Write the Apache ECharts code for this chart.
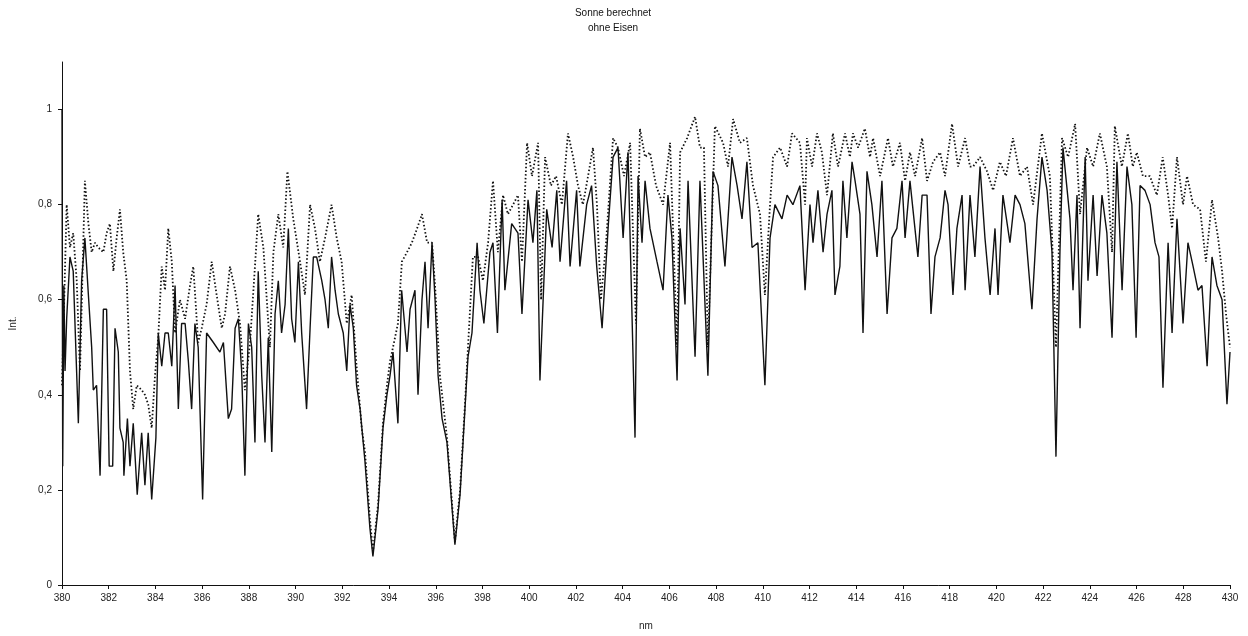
<!DOCTYPE html>
<html>
<head>
<meta charset="utf-8">
<title>Sonne berechnet – ohne Eisen</title>
<script src="https://cdn.jsdelivr.net/npm/echarts@6/dist/echarts.min.js"></script>
<style>
  html, body { margin: 0; padding: 0; background: #fff; }
  #chart { width: 1248px; height: 636px; }
</style>
</head>
<body>
<div id="chart"></div>
<script>
// Wavelength axis (nm) and intensity axis tick values
const xTicks = [380, 382, 384, 386, 388, 390, 392, 394, 396, 398, 400, 402, 404, 406, 408, 410, 412, 414, 416, 418, 420, 422, 424, 426, 428, 430];
const yTicks = [0, 0.2, 0.4, 0.6, 0.8, 1];

// Solid spectrum: [wavelength nm, intensity]
const solidSpectrum = [
  [380.00,1.00],[380.03,0.25],[380.08,0.63],[380.13,0.45],[380.20,0.56],[380.34,0.69],[380.48,0.66],[380.70,0.34],[380.84,0.64],[380.98,0.73],
  [381.13,0.61],[381.27,0.50],[381.34,0.41],[381.48,0.42],[381.63,0.23],[381.77,0.58],[381.91,0.58],[382.02,0.25],[382.17,0.25],[382.27,0.54],
  [382.41,0.49],[382.48,0.33],[382.62,0.30],[382.65,0.23],[382.80,0.35],[382.91,0.25],[383.05,0.34],[383.22,0.19],[383.41,0.32],[383.55,0.21],
  [383.69,0.32],[383.84,0.18],[384.02,0.31],[384.12,0.53],[384.27,0.46],[384.41,0.53],[384.55,0.53],[384.70,0.46],[384.84,0.63],[384.98,0.37],
  [385.12,0.55],[385.27,0.55],[385.41,0.47],[385.55,0.37],[385.69,0.55],[385.83,0.50],[386.02,0.18],[386.19,0.53],[386.48,0.51],[386.76,0.49],
  [386.91,0.51],[387.12,0.35],[387.26,0.37],[387.41,0.54],[387.55,0.56],[387.69,0.45],[387.83,0.23],[387.98,0.55],[388.12,0.50],[388.26,0.30],
  [388.40,0.66],[388.55,0.44],[388.69,0.30],[388.83,0.52],[388.98,0.28],[389.12,0.57],[389.26,0.64],[389.40,0.53],[389.55,0.59],[389.69,0.75],
  [389.83,0.56],[389.97,0.51],[390.12,0.68],[390.26,0.53],[390.47,0.37],[390.62,0.54],[390.76,0.69],[390.90,0.69],[391.12,0.64],[391.26,0.60],
  [391.40,0.54],[391.54,0.69],[391.69,0.62],[391.83,0.57],[392.04,0.53],[392.19,0.45],[392.33,0.59],[392.47,0.54],[392.61,0.42],[392.76,0.37],
  [392.97,0.26],[393.18,0.12],[393.31,0.06],[393.53,0.16],[393.74,0.33],[393.91,0.40],[394.04,0.44],[394.17,0.49],[394.38,0.34],[394.54,0.62],
  [394.77,0.49],[394.90,0.58],[395.11,0.62],[395.24,0.40],[395.41,0.60],[395.54,0.68],[395.67,0.54],[395.84,0.72],[395.97,0.60],[396.10,0.44],
  [396.27,0.35],[396.48,0.30],[396.70,0.16],[396.82,0.085],[397.04,0.19],[397.25,0.37],[397.38,0.48],[397.55,0.53],[397.77,0.72],[397.89,0.62],
  [398.06,0.55],[398.32,0.70],[398.45,0.72],[398.64,0.53],[398.84,0.81],[398.96,0.62],[399.25,0.76],[399.52,0.74],[399.69,0.57],[399.95,0.81],
  [400.16,0.72],[400.33,0.83],[400.46,0.43],[400.75,0.79],[400.98,0.71],[401.18,0.83],[401.32,0.68],[401.60,0.85],[401.75,0.67],[402.03,0.83],
  [402.17,0.67],[402.46,0.80],[402.67,0.84],[402.89,0.67],[403.12,0.54],[403.39,0.76],[403.59,0.90],[403.80,0.92],[404.02,0.73],[404.23,0.91],
  [404.53,0.31],[404.66,0.86],[404.83,0.72],[404.96,0.85],[405.17,0.75],[405.47,0.68],[405.73,0.62],[405.94,0.82],[406.11,0.73],[406.33,0.43],
  [406.46,0.75],[406.67,0.59],[406.80,0.85],[407.10,0.48],[407.31,0.85],[407.65,0.44],[407.87,0.87],[408.08,0.84],[408.38,0.67],[408.68,0.90],
  [408.90,0.84],[409.11,0.77],[409.32,0.89],[409.54,0.71],[409.79,0.72],[410.09,0.42],[410.31,0.73],[410.52,0.80],[410.82,0.77],[411.04,0.82],
  [411.29,0.80],[411.59,0.84],[411.81,0.62],[412.02,0.80],[412.15,0.72],[412.36,0.83],[412.58,0.70],[412.75,0.78],[412.96,0.83],[413.09,0.61],
  [413.30,0.67],[413.43,0.85],[413.60,0.73],[413.82,0.89],[413.95,0.85],[414.16,0.78],[414.29,0.53],[414.46,0.87],[414.67,0.80],[414.89,0.69],
  [415.10,0.85],[415.32,0.57],[415.53,0.73],[415.74,0.75],[415.96,0.85],[416.09,0.73],[416.30,0.85],[416.64,0.69],[416.82,0.82],[417.03,0.82],
  [417.20,0.57],[417.37,0.69],[417.59,0.73],[417.80,0.83],[417.93,0.80],[418.14,0.61],[418.31,0.75],[418.53,0.82],[418.66,0.62],[418.87,0.82],
  [419.08,0.69],[419.30,0.88],[419.51,0.73],[419.73,0.61],[419.94,0.75],[420.07,0.61],[420.28,0.82],[420.58,0.72],[420.80,0.82],[421.01,0.80],
  [421.22,0.76],[421.52,0.58],[421.74,0.77],[421.95,0.90],[422.17,0.83],[422.38,0.70],[422.55,0.27],[422.72,0.70],[422.85,0.92],[423.15,0.77],
  [423.28,0.62],[423.45,0.82],[423.58,0.54],[423.80,0.90],[423.92,0.64],[424.14,0.82],[424.31,0.65],[424.52,0.82],[424.73,0.74],[424.95,0.52],
  [425.16,0.89],[425.38,0.62],[425.59,0.88],[425.80,0.80],[425.98,0.52],[426.15,0.84],[426.36,0.83],[426.58,0.80],[426.79,0.72],[426.96,0.69],
  [427.13,0.415],[427.35,0.72],[427.52,0.53],[427.73,0.77],[427.99,0.55],[428.20,0.72],[428.42,0.67],[428.63,0.62],[428.80,0.63],[429.02,0.46],
  [429.23,0.69],[429.44,0.63],[429.66,0.60],[429.87,0.38],[430.00,0.49]
];

// Dotted spectrum: [wavelength nm, intensity]
const dottedSpectrum = [
  [380.00,0.42],[380.20,0.80],[380.34,0.71],[380.48,0.74],[380.63,0.64],[380.77,0.45],[380.98,0.85],[381.13,0.76],[381.27,0.70],[381.41,0.72],
  [381.55,0.71],[381.77,0.70],[381.91,0.74],[382.05,0.76],[382.20,0.66],[382.34,0.73],[382.48,0.79],[382.62,0.70],[382.77,0.64],[382.91,0.45],
  [383.05,0.37],[383.20,0.42],[383.41,0.41],[383.55,0.40],[383.69,0.38],[383.84,0.33],[383.98,0.44],[384.12,0.52],[384.27,0.67],[384.41,0.62],
  [384.55,0.75],[384.70,0.68],[384.84,0.53],[385.05,0.60],[385.27,0.56],[385.48,0.63],[385.62,0.67],[385.83,0.51],[385.98,0.54],[386.19,0.59],
  [386.41,0.68],[386.62,0.61],[386.84,0.54],[386.98,0.57],[387.19,0.67],[387.41,0.62],[387.62,0.55],[387.83,0.41],[388.05,0.51],[388.26,0.67],
  [388.40,0.78],[388.62,0.71],[388.90,0.50],[389.05,0.70],[389.26,0.78],[389.47,0.71],[389.65,0.87],[389.90,0.77],[390.19,0.68],[390.40,0.61],
  [390.62,0.80],[390.83,0.75],[391.04,0.68],[391.26,0.73],[391.54,0.80],[391.76,0.73],[391.97,0.68],[392.19,0.55],[392.40,0.61],[392.61,0.46],
  [392.83,0.33],[392.97,0.28],[393.18,0.14],[393.31,0.07],[393.53,0.17],[393.74,0.34],[393.91,0.42],[394.04,0.47],[394.17,0.50],[394.38,0.55],
  [394.55,0.68],[394.77,0.70],[394.98,0.72],[395.20,0.75],[395.41,0.78],[395.63,0.72],[395.84,0.72],[395.97,0.63],[396.18,0.44],[396.48,0.31],
  [396.70,0.17],[396.82,0.09],[397.04,0.20],[397.25,0.38],[397.38,0.50],[397.59,0.69],[397.81,0.69],[398.02,0.64],[398.24,0.72],[398.45,0.85],
  [398.66,0.70],[398.88,0.82],[399.09,0.78],[399.31,0.80],[399.52,0.82],[399.69,0.68],[399.91,0.93],[400.12,0.86],[400.38,0.93],[400.51,0.60],
  [400.68,0.90],[400.93,0.84],[401.15,0.86],[401.40,0.80],[401.66,0.95],[401.88,0.90],[402.09,0.84],[402.30,0.80],[402.52,0.86],[402.73,0.92],
  [402.90,0.80],[403.07,0.60],[403.29,0.72],[403.59,0.94],[403.80,0.92],[404.06,0.86],[404.32,0.93],[404.57,0.55],[404.74,0.96],[404.96,0.90],
  [405.17,0.91],[405.43,0.84],[405.73,0.80],[406.03,0.93],[406.33,0.50],[406.46,0.91],[406.76,0.94],[407.10,0.985],[407.31,0.92],[407.48,0.92],
  [407.65,0.50],[407.95,0.965],[408.30,0.93],[408.51,0.88],[408.73,0.98],[409.02,0.93],[409.32,0.94],[409.58,0.84],[409.88,0.78],[410.09,0.61],
  [410.31,0.80],[410.44,0.90],[410.74,0.92],[411.04,0.88],[411.25,0.95],[411.59,0.93],[411.81,0.80],[411.89,0.94],[412.11,0.88],[412.32,0.95],
  [412.53,0.91],[412.75,0.82],[413.00,0.95],[413.22,0.88],[413.52,0.95],[413.73,0.90],[413.86,0.95],[414.08,0.92],[414.37,0.96],[414.59,0.90],
  [414.72,0.94],[415.02,0.86],[415.36,0.94],[415.57,0.88],[415.87,0.93],[416.09,0.85],[416.30,0.91],[416.52,0.86],[416.82,0.94],[417.03,0.85],
  [417.29,0.89],[417.59,0.91],[417.80,0.86],[418.10,0.97],[418.36,0.88],[418.66,0.94],[418.87,0.88],[419.00,0.88],[419.30,0.90],[419.60,0.87],
  [419.86,0.83],[420.15,0.89],[420.41,0.86],[420.71,0.94],[421.01,0.86],[421.31,0.88],[421.57,0.80],[421.95,0.95],[422.29,0.86],[422.55,0.50],
  [422.81,0.94],[423.07,0.90],[423.37,0.97],[423.58,0.78],[423.88,0.92],[424.14,0.88],[424.43,0.95],[424.73,0.88],[424.95,0.70],[425.07,0.965],
  [425.37,0.88],[425.63,0.95],[425.84,0.88],[426.01,0.91],[426.27,0.86],[426.57,0.86],[426.87,0.82],[427.12,0.90],[427.35,0.82],[427.52,0.75],
  [427.73,0.90],[427.99,0.80],[428.16,0.86],[428.42,0.80],[428.72,0.79],[428.97,0.68],[429.23,0.81],[429.49,0.73],[429.66,0.66],[429.83,0.57],
  [430.00,0.50]
];

const chart = echarts.init(document.getElementById('chart'), null, { renderer: 'canvas' });

const axisFont = { fontFamily: 'Liberation Sans, Arial, sans-serif', fontSize: 10, color: '#222' };

chart.setOption({
  animation: false,
  backgroundColor: '#ffffff',
  graphic: [{
    type: 'text',
    x: 613,
    y: 6,
    style: {
      text: 'Sonne berechnet\nohne Eisen',
      align: 'center',
      font: '10px "Liberation Sans", Arial, sans-serif',
      fill: '#111',
      lineHeight: 15
    }
  }],
  grid: { left: 62, right: 18, top: 62, bottom: 47, containLabel: false },
  xAxis: {
    type: 'value',
    min: xTicks[0],
    max: xTicks[xTicks.length - 1],
    interval: 2,
    name: 'nm',
    nameLocation: 'middle',
    nameGap: 36,
    nameTextStyle: axisFont,
    axisLine: { show: true, onZero: false, lineStyle: { color: '#111', width: 1 } },
    axisTick: { show: true, length: 4, lineStyle: { color: '#111' } },
    axisLabel: { ...axisFont, margin: 8 },
    splitLine: { show: false }
  },
  yAxis: {
    type: 'value',
    min: 0,
    max: 1.1,
    interval: 0.2,
    name: 'Int.',
    nameLocation: 'middle',
    nameRotate: 90,
    nameGap: 44,
    nameTextStyle: axisFont,
    axisLine: { show: true, lineStyle: { color: '#111', width: 1 } },
    axisTick: { show: true, length: 4, customValues: yTicks, lineStyle: { color: '#111' } },
    axisLabel: {
      ...axisFont,
      margin: 10,
      customValues: yTicks,
      formatter: v => String(Math.round(v * 10) / 10).replace('.', ',')
    },
    splitLine: { show: false }
  },
  series: [
    {
      type: 'line',
      data: dottedSpectrum,
      showSymbol: false,
      symbol: 'none',
      lineStyle: { color: '#111', width: 1.8, type: [1.5, 2.2] },
      z: 2
    },
    {
      type: 'line',
      data: solidSpectrum,
      showSymbol: false,
      symbol: 'none',
      lineStyle: { color: '#111', width: 1.4 },
      z: 3
    }
  ]
});
</script>
</body>
</html>
